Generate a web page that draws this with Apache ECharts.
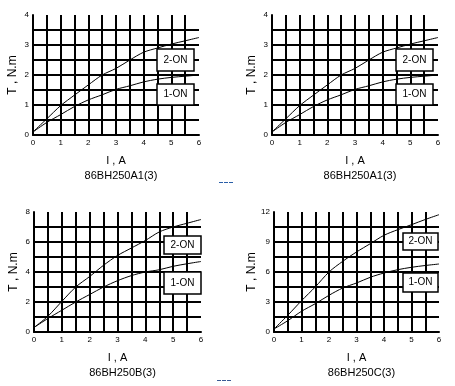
<!DOCTYPE html>
<html><head><meta charset="utf-8">
<script src="https://cdn.jsdelivr.net/npm/echarts@6/dist/echarts.min.js"></script>
<style>html,body{margin:0;padding:0;background:#fff}#c{width:455px;height:386px}</style>
</head><body><div id="c"></div>
<script>
const currentA = [0, 0.5, 1, 1.5, 2, 2.5, 3, 3.5, 4, 4.5, 5, 5.5, 6];
const a1_2on = [0.1, 0.54, 0.98, 1.33, 1.67, 2.0, 2.22, 2.5, 2.76, 2.9, 3.03, 3.14, 3.25];
const a1_1on = [0.1, 0.42, 0.68, 0.95, 1.17, 1.34, 1.52, 1.64, 1.77, 1.86, 1.92, 1.96, 2.0];
const b_2on = [0.3, 1.05, 2.04, 3.0, 3.7, 4.45, 5.1, 5.6, 6.1, 6.67, 7.0, 7.25, 7.5];
const b_1on = [0.3, 0.9, 1.45, 2.0, 2.5, 3.0, 3.42, 3.76, 4.0, 4.15, 4.38, 4.55, 4.7];
const c_2on = [0.3, 1.67, 3.13, 4.5, 6.0, 7.07, 8.0, 8.83, 9.67, 10.23, 10.73, 11.25, 11.73];
const c_1on = [0.3, 1.13, 2.07, 2.83, 3.67, 4.4, 4.9, 5.47, 5.9, 6.23, 6.47, 6.65, 6.8];
const chartTitles = ['86BH250A1(3)', '86BH250A1(3)', '86BH250B(3)', '86BH250C(3)'];
const yMax = [4, 4, 8, 12];
const yStep = [0.5, 0.5, 1, 1.5];
const yLabelStep = [1, 1, 2, 3];
const seriesNames = ['2-ON', '1-ON'];
const xName = 'I , A';
const yName = 'T , N.m';

const panels = [
  {d2: a1_2on, d1: a1_1on},
  {d2: a1_2on, d1: a1_1on},
  {d2: b_2on, d1: b_1on},
  {d2: c_2on, d1: c_1on}
];
const grids = [
  {left: 33, top: 15, width: 166, height: 120},
  {left: 272, top: 15, width: 166, height: 120},
  {left: 34, top: 212, width: 167, height: 120},
  {left: 274, top: 212, width: 165, height: 120}
];
const boxes = [
  [[157, 49, 37, 22], [157, 84, 37, 21]],
  [[396, 49, 37, 22], [396, 84, 37, 21]],
  [[164, 236, 37, 18], [164, 272, 37, 22]],
  [[403, 233, 35, 17], [403, 273, 35, 19]]
];
const font = 'Liberation Sans, Arial, sans-serif';
const gl = {show: true, lineStyle: {color: '#000', width: 2}, showMinLine: false, showMaxLine: false};
const xAxis = [], yAxis = [], series = [], title = [], graphic = [];
panels.forEach((p, i) => {
  xAxis.push({type: 'value', gridIndex: i, min: 0, max: 6, interval: 0.5,
    name: xName, nameLocation: 'middle', nameGap: 20,
    nameTextStyle: {fontSize: 11, color: '#000', fontFamily: font},
    axisLine: {show: true, onZero: false, lineStyle: {color: '#000', width: 2}},
    axisTick: {show: false},
    axisLabel: {fontSize: 8, color: '#000', margin: 4, fontFamily: font, showMinLabel: true, showMaxLabel: true,
      formatter: v => Number.isInteger(v) ? String(v) : ''},
    splitLine: gl});
  yAxis.push({type: 'value', gridIndex: i, min: 0, max: yMax[i], interval: yStep[i],
    name: yName, nameLocation: 'middle', nameGap: 14, nameRotate: 90,
    nameTextStyle: {fontSize: 12, color: '#000', fontFamily: font},
    axisLine: {show: true, onZero: false, lineStyle: {color: '#000', width: 2}},
    axisTick: {show: false},
    axisLabel: {fontSize: 8, color: '#000', margin: 4, fontFamily: font, showMinLabel: true, showMaxLabel: true,
      formatter: v => (Math.abs(v / yLabelStep[i] - Math.round(v / yLabelStep[i])) < 1e-6) ? String(v) : ''},
    splitLine: gl});
  [p.d2, p.d1].forEach((d, k) => {
    series.push({type: 'line', name: seriesNames[k], xAxisIndex: i, yAxisIndex: i, smooth: 0.3,
      symbol: 'none', lineStyle: {color: '#000', width: 1},
      data: currentA.map((x, j) => [x, d[j]])});
  });
  const g = grids[i];
  title.push({text: chartTitles[i], left: g.left + g.width / 2, top: g.top + g.height + 30, textAlign: 'center',
    textStyle: {fontSize: 11, fontWeight: 'normal', color: '#000', fontFamily: font}});
  boxes[i].forEach((b, k) => {
    graphic.push({type: 'rect', shape: {x: b[0], y: b[1], width: b[2], height: b[3]},
      style: {fill: '#fff', stroke: '#000', lineWidth: 1.5}, z: 100});
    graphic.push({type: 'text', x: b[0] + b[2] / 2, y: b[1] + b[3] / 2,
      style: {text: seriesNames[k], fill: '#000', font: '10px ' + font, align: 'center', verticalAlign: 'middle'}, z: 101});
  });
});
graphic.push({type: 'line', shape: {x1: 219, y1: 182.5, x2: 233, y2: 182.5},
  style: {stroke: '#2a5fa8', lineWidth: 1, lineDash: [4, 1]}});
graphic.push({type: 'line', shape: {x1: 217, y1: 380.5, x2: 231, y2: 380.5},
  style: {stroke: '#3a5a95', lineWidth: 1, lineDash: [4, 1]}});
const chart = echarts.init(document.getElementById('c'), null, {renderer: 'canvas'});
chart.setOption({animation: false, grid: grids, xAxis, yAxis, series, title, graphic});
</script></body></html>
